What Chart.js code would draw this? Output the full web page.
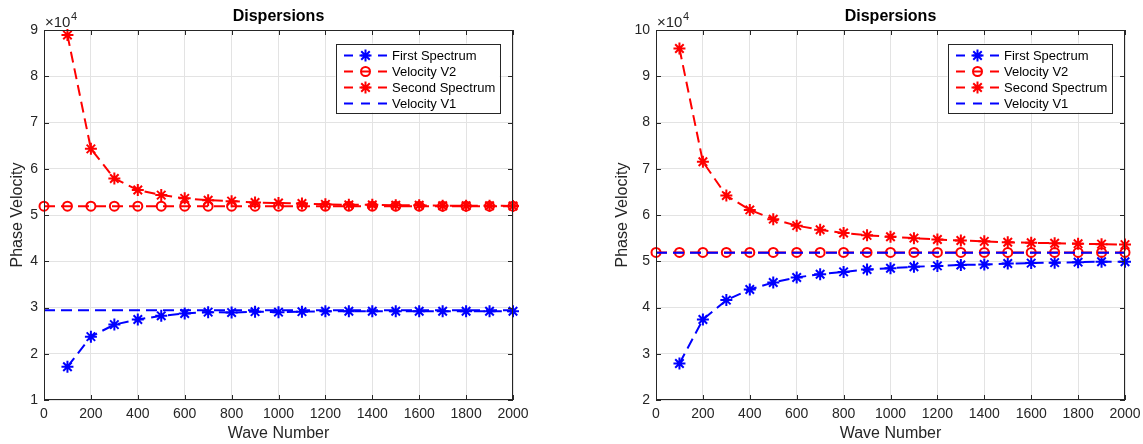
<!DOCTYPE html>
<html>
<head>
<meta charset="utf-8">
<script src="https://cdn.jsdelivr.net/npm/chart.js@4.4.1/dist/chart.umd.min.js"></script>
<style>
  html, body { margin: 0; padding: 0; background: #fff; }
  .wrap { position: absolute; top: 0; width: 571px; height: 444px; }
  #leftWrap { left: 0; }
  #rightWrap { left: 572px; }
</style>
</head>
<body>
<div class="wrap" id="leftWrap"><canvas id="leftChart"></canvas></div>
<div class="wrap" id="rightWrap"><canvas id="rightChart"></canvas></div>
<script>
// Wave numbers of the spectrum samples
const waveNumbers = [100, 200, 300, 400, 500, 600, 700, 800, 900, 1000,
                     1100, 1200, 1300, 1400, 1500, 1600, 1700, 1800, 1900, 2000];
// Wave numbers of the reference velocity markers
const velocityWaveNumbers = [0, 100, 200, 300, 400, 500, 600, 700, 800, 900, 1000,
                             1100, 1200, 1300, 1400, 1500, 1600, 1700, 1800, 1900, 2000];
const lineEnds = [0, 2000];

// Left panel
const leftFirst = [17200, 23700, 26300, 27400, 28200, 28700, 29000, 28900, 29100, 29000,
                   29100, 29200, 29200, 29200, 29200, 29200, 29200, 29200, 29200, 29200];
const leftSecond = [88900, 64300, 57900, 55400, 54300, 53600, 53200, 53000, 52700, 52600,
                    52500, 52300, 52200, 52200, 52100, 52100, 52000, 52000, 52000, 51950];
const leftV2 = 51900;
const leftV1 = 29400;
const leftYTicks = [10000, 20000, 30000, 40000, 50000, 60000, 70000, 80000, 90000];

// Right panel
const rightFirst = [27900, 37400, 41600, 43900, 45400, 46500, 47200, 47700, 48200, 48500,
                    48800, 49000, 49200, 49300, 49500, 49600, 49700, 49800, 49900, 49900];
const rightSecond = [96000, 71500, 64200, 61100, 59100, 57700, 56800, 56100, 55600, 55300,
                     55000, 54700, 54500, 54300, 54100, 54000, 53900, 53800, 53700, 53600];
const rightV2 = 51900;
const rightV1 = 51850;
const rightYTicks = [20000, 30000, 40000, 50000, 60000, 70000, 80000, 90000, 100000];

const xTicks = [0, 200, 400, 600, 800, 1000, 1200, 1400, 1600, 1800, 2000];

const FONT = "'Liberation Sans', Arial, Helvetica, sans-serif";
const colors = {
    blue: '#0000ff',
    red: '#ff0000',
    axis: '#262626',
    grid: '#e3e3e3'
};

// MATLAB-like box, inward ticks, title, exponent and legend
const matlabFrame = {
    id: 'matlabFrame',
    afterDraw(chart) {
        const ctx = chart.ctx;
        const area = chart.chartArea;
        const xs = chart.scales.x, ys = chart.scales.y;
        ctx.save();
        ctx.setLineDash([]);
        ctx.strokeStyle = colors.axis;
        ctx.lineWidth = 1;
        ctx.strokeRect(area.left + 0.5, area.top + 0.5, area.right - area.left - 1, area.bottom - area.top - 1);
        ctx.beginPath();
        xTicks.forEach(v => {
            const px = Math.round(xs.getPixelForValue(v)) + 0.5;
            ctx.moveTo(px, area.bottom); ctx.lineTo(px, area.bottom - 5);
            ctx.moveTo(px, area.top); ctx.lineTo(px, area.top + 5);
        });
        chart.options.plugins.matlabFrame.yTicks.forEach(v => {
            const py = Math.round(ys.getPixelForValue(v)) + 0.5;
            ctx.moveTo(area.left, py); ctx.lineTo(area.left + 5, py);
            ctx.moveTo(area.right, py); ctx.lineTo(area.right - 5, py);
        });
        ctx.stroke();

        // title
        ctx.fillStyle = '#000';
        ctx.font = 'bold 16px ' + FONT;
        ctx.textAlign = 'center';
        ctx.textBaseline = 'middle';
        ctx.fillText('Dispersions', (area.left + area.right) / 2, 17);

        // exponent
        ctx.fillStyle = colors.axis;
        ctx.textAlign = 'left';
        ctx.textBaseline = 'alphabetic';
        ctx.font = '15px ' + FONT;
        ctx.fillText('\u00d710', area.left + 1, 27);
        const w = ctx.measureText('\u00d710').width;
        ctx.font = '11px ' + FONT;
        ctx.fillText('4', area.left + 1 + w + 0.5, 20);

        // legend
        const bw = 164, bh = 69;
        const bx = area.right - 13.5 - bw, by = area.top + 13.5;
        ctx.fillStyle = '#fff';
        ctx.fillRect(bx, by, bw, bh);
        ctx.strokeStyle = colors.axis;
        ctx.strokeRect(Math.round(bx) + 0.5, Math.round(by) + 0.5, bw, bh);
        chart.data.datasets.forEach((ds, i) => {
            const cy = by + 12 + i * 16;
            const x0 = bx + 8.5;
            ctx.strokeStyle = ds.borderColor;
            ctx.lineWidth = 2;
            ctx.setLineDash([9, 8]);
            ctx.beginPath();
            ctx.moveTo(x0, cy); ctx.lineTo(x0 + 43, cy);
            ctx.stroke();
            ctx.setLineDash([]);
            drawMarker(ctx, ds.pointStyle, ds.pointRadius, x0 + 21.5, cy, ds.borderColor);
            ctx.fillStyle = '#000';
            ctx.font = '13px ' + FONT;
            ctx.textBaseline = 'middle';
            ctx.fillText(ds.label, bx + 56.5, cy + 0.5);
        });
        ctx.restore();
    }
};

function drawMarker(ctx, style, r, x, y, color) {
    if (!r) return;
    ctx.strokeStyle = color;
    ctx.lineWidth = 2;
    ctx.beginPath();
    if (style === 'star') {
        const d = r * Math.SQRT1_2;
        ctx.moveTo(x - r, y); ctx.lineTo(x + r, y);
        ctx.moveTo(x, y - r); ctx.lineTo(x, y + r);
        ctx.moveTo(x - d, y - d); ctx.lineTo(x + d, y + d);
        ctx.moveTo(x - d, y + d); ctx.lineTo(x + d, y - d);
    } else {
        ctx.arc(x, y, r, 0, Math.PI * 2);
    }
    ctx.stroke();
}

function toPoints(xsArr, ysArr) {
    return xsArr.map((x, i) => ({ x: x, y: ysArr[i] }));
}
function constPoints(xsArr, v) {
    return xsArr.map(x => ({ x: x, y: v }));
}

function makeChart(id, first, second, v2, v1, yTicks, padLeft, padRight, yTitlePad) {
    const base = { showLine: true, borderWidth: 2, borderDash: [11, 6], clip: false, fill: false, tension: 0 };
    new Chart(document.getElementById(id), {
        type: 'scatter',
        data: {
            datasets: [
                Object.assign({}, base, {
                    label: 'First Spectrum', data: toPoints(waveNumbers, first),
                    borderColor: colors.blue, backgroundColor: 'rgba(0,0,0,0)',
                    pointStyle: 'star', pointRadius: 6, pointBorderWidth: 2, order: 4
                }),
                Object.assign({}, base, {
                    label: 'Velocity V2', data: constPoints(velocityWaveNumbers, v2),
                    borderColor: colors.red, backgroundColor: 'rgba(0,0,0,0)',
                    pointStyle: 'circle', pointRadius: 4.5, pointBorderWidth: 2, order: 3
                }),
                Object.assign({}, base, {
                    label: 'Second Spectrum', data: toPoints(waveNumbers, second),
                    borderColor: colors.red, backgroundColor: 'rgba(0,0,0,0)',
                    pointStyle: 'star', pointRadius: 6, pointBorderWidth: 2, order: 2
                }),
                Object.assign({}, base, {
                    label: 'Velocity V1', data: constPoints(lineEnds, v1),
                    borderColor: colors.blue, backgroundColor: 'rgba(0,0,0,0)',
                    pointStyle: 'line', pointRadius: 0, order: 1
                })
            ]
        },
        options: {
            responsive: true,
            maintainAspectRatio: false,
            animation: false,
            events: [],
            layout: { padding: { left: padLeft, right: padRight, top: 30, bottom: 0 } },
            plugins: {
                legend: { display: false },
                tooltip: { enabled: false },
                matlabFrame: { yTicks: yTicks }
            },
            scales: {
                x: {
                    type: 'linear', min: 0, max: 2000,
                    afterBuildTicks: s => { s.ticks = xTicks.map(v => ({ value: v })); },
                    afterFit: s => { s.height = 44; s.paddingLeft = 0; s.paddingRight = 0; },
                    grid: { color: colors.grid, drawTicks: false },
                    border: { display: false },
                    ticks: { color: colors.axis, font: { family: FONT, size: 14 }, padding: 6, maxRotation: 0,
                             callback: v => String(v) },
                    title: { display: true, text: 'Wave Number', color: colors.axis,
                             font: { family: FONT, size: 16 }, padding: { top: 0, bottom: 1 } }
                },
                y: {
                    type: 'linear', min: yTicks[0], max: yTicks[yTicks.length - 1],
                    afterBuildTicks: s => { s.ticks = yTicks.map(v => ({ value: v })); },
                    afterFit: s => { s.width = 44; s.paddingTop = 0; s.paddingBottom = 0; },
                    grid: { color: colors.grid, drawTicks: false },
                    border: { display: false },
                    ticks: { color: colors.axis, font: { family: FONT, size: 14 }, padding: 6,
                             callback: v => String(v / 10000) },
                    title: { display: true, text: 'Phase Velocity', color: colors.axis,
                             font: { family: FONT, size: 16 }, padding: { top: yTitlePad, bottom: 0 } }
                }
            }
        },
        plugins: [matlabFrame]
    });
}

makeChart('leftChart', leftFirst, leftSecond, leftV2, leftV1, leftYTicks, 0, 58, 8);
makeChart('rightChart', rightFirst, rightSecond, rightV2, rightV1, rightYTicks, 40, 18, 0.5);
</script>
</body>
</html>
